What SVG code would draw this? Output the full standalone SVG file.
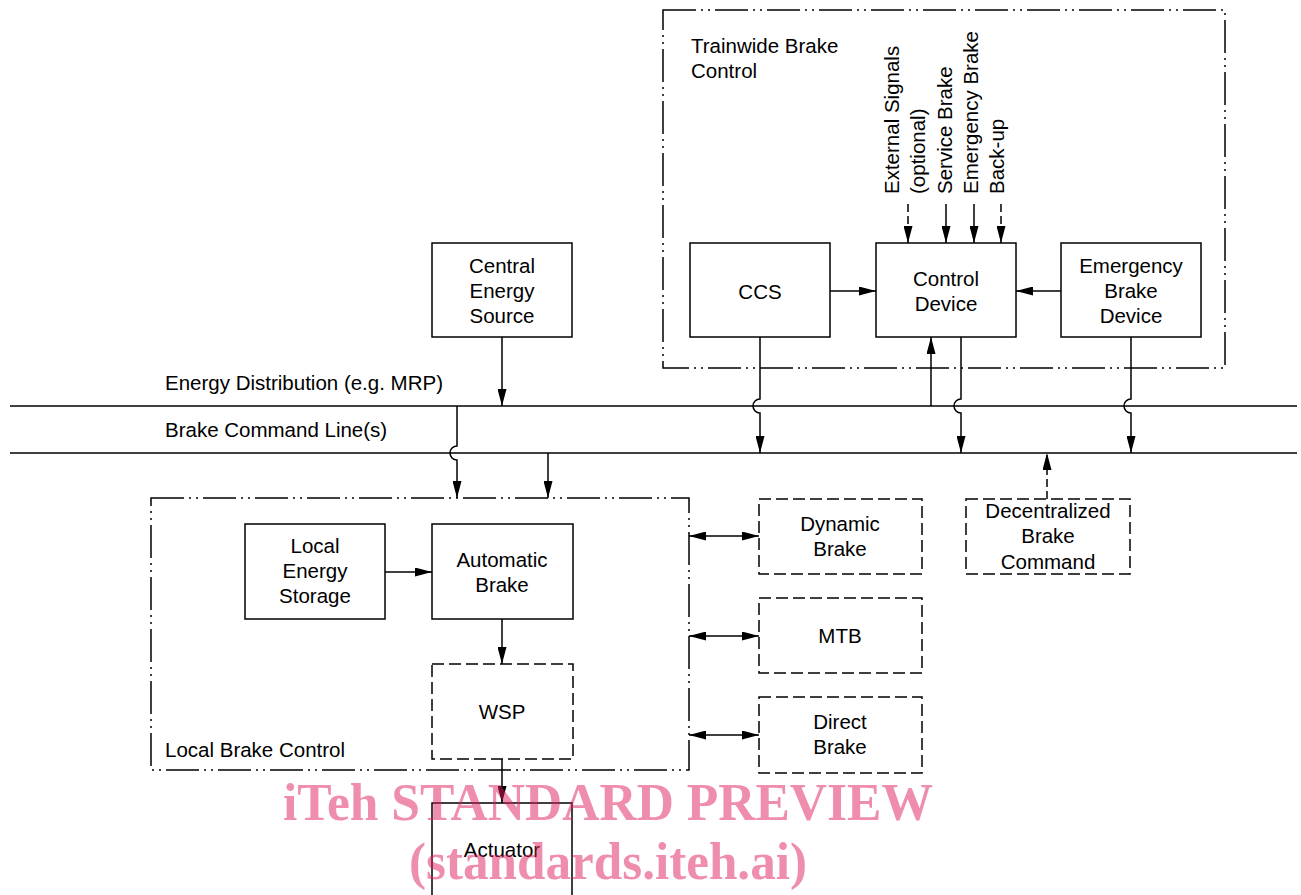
<svg xmlns="http://www.w3.org/2000/svg" width="1301" height="895" viewBox="0 0 1301 895">
<defs>
<marker id="ah" markerWidth="17" markerHeight="9" refX="17" refY="4.5" orient="auto-start-reverse" markerUnits="userSpaceOnUse"><path d="M0,0 L17,4.5 L0,9 z" fill="#000"/></marker>
<style>
.box{fill:#fff;stroke:#000;stroke-width:1.5}
.dbox{fill:#fff;stroke:#000;stroke-width:1.5;stroke-dasharray:12 5}
.grp{fill:none;stroke:#000;stroke-width:1.5;stroke-dasharray:33 5 2 5 2 5}
.t{font-family:"Liberation Sans",Arial,sans-serif;font-size:20.5px;fill:#000}
.c{text-anchor:middle}
.ln{fill:none;stroke:#000;stroke-width:1.5}
.ar{marker-end:url(#ah)}
.da{marker-start:url(#ah);marker-end:url(#ah)}
.dl{stroke-dasharray:8 4}
.wm{font-family:"Liberation Serif","Times New Roman",serif;font-weight:bold;fill:rgb(222,30,90);fill-opacity:0.5}
</style>
</defs>
<rect width="1301" height="895" fill="#fff"/>

<g id="trainwide-brake-control">
<rect class="grp" x="663" y="10" width="562" height="358"/>
<text class="t" x="691" y="53">Trainwide Brake</text>
<text class="t" x="691" y="78">Control</text>
<text class="t" transform="translate(899,194) rotate(-90)">External Signals</text>
<text class="t" transform="translate(925,194) rotate(-90)">(optional)</text>
<text class="t" transform="translate(952,194) rotate(-90)">Service Brake</text>
<text class="t" transform="translate(978,194) rotate(-90)">Emergency Brake</text>
<text class="t" transform="translate(1004,194) rotate(-90)">Back-up</text>
</g>

<g id="local-brake-control">
<rect class="grp" x="151" y="498" width="538" height="272"/>
<text class="t" x="165" y="757">Local Brake Control</text>
</g>

<g id="central-energy-source">
<rect class="box" x="432" y="243" width="140" height="94"/>
<text class="t c" x="502" y="273">Central</text>
<text class="t c" x="502" y="298">Energy</text>
<text class="t c" x="502" y="323">Source</text>
</g>

<g id="ccs">
<rect class="box" x="690" y="243" width="140" height="94"/>
<text class="t c" x="760" y="299">CCS</text>
</g>

<g id="control-device">
<rect class="box" x="876" y="243" width="140" height="94"/>
<text class="t c" x="946" y="286">Control</text>
<text class="t c" x="946" y="311">Device</text>
</g>

<g id="emergency-brake-device">
<rect class="box" x="1061" y="243" width="140" height="94"/>
<text class="t c" x="1131" y="273">Emergency</text>
<text class="t c" x="1131" y="298">Brake</text>
<text class="t c" x="1131" y="323">Device</text>
</g>

<g id="energy-distribution">
<text class="t" x="165" y="390">Energy Distribution (e.g. MRP)</text>
</g>
<g id="brake-command-line">
<text class="t" x="165" y="437">Brake Command Line(s)</text>
</g>

<g id="local-energy-storage">
<rect class="box" x="245" y="524" width="140" height="95"/>
<text class="t c" x="315" y="553">Local</text>
<text class="t c" x="315" y="578">Energy</text>
<text class="t c" x="315" y="603">Storage</text>
</g>

<g id="automatic-brake">
<rect class="box" x="432" y="524" width="141" height="95"/>
<text class="t c" x="502" y="567">Automatic</text>
<text class="t c" x="502" y="592">Brake</text>
</g>

<g id="wsp">
<rect class="dbox" x="432" y="664" width="141" height="95"/>
<text class="t c" x="502" y="719">WSP</text>
</g>

<g id="actuator">
<rect class="box" x="432" y="803" width="140" height="100"/>
<text class="t c" x="502" y="857">Actuator</text>
</g>

<g id="dynamic-brake">
<rect class="dbox" x="759" y="499" width="163" height="75"/>
<text class="t c" x="840" y="531">Dynamic</text>
<text class="t c" x="840" y="556">Brake</text>
</g>

<g id="mtb">
<rect class="dbox" x="759" y="598" width="163" height="75"/>
<text class="t c" x="840" y="643">MTB</text>
</g>

<g id="direct-brake">
<rect class="dbox" x="759" y="697" width="163" height="76"/>
<text class="t c" x="840" y="729">Direct</text>
<text class="t c" x="840" y="754">Brake</text>
</g>

<g id="decentralized-brake-command">
<rect class="dbox" x="966" y="499" width="164" height="75"/>
<text class="t c" x="1048" y="518">Decentralized</text>
<text class="t c" x="1048" y="543">Brake</text>
<text class="t c" x="1048" y="569">Command</text>
</g>

<g id="connectors">
<line class="ln" x1="10" y1="406" x2="1297" y2="406"/>
<line class="ln" x1="10" y1="453" x2="1297" y2="453"/>
<path class="ln ar" d="M502,337 V406"/>
<path class="ln ar" d="M457,406 V446 A7,7 0 0 0 457,460 V498"/>
<path class="ln ar" d="M548,453 V498"/>
<path class="ln ar" d="M760,337 V399 A7,7 0 0 0 760,413 V453"/>
<path class="ln ar" d="M931,406 V337"/>
<path class="ln ar" d="M961,337 V399 A7,7 0 0 0 961,413 V453"/>
<path class="ln ar" d="M1131,337 V399 A7,7 0 0 0 1131,413 V453"/>
<path class="ln ar dl" d="M1047,499 V453"/>
<path class="ln ar" d="M830,291 H876"/>
<path class="ln ar" d="M1061,291 H1016"/>
<path class="ln ar dl" d="M908,204 V243"/>
<path class="ln ar" d="M946,204 V243"/>
<path class="ln ar" d="M974,204 V243"/>
<path class="ln ar dl" d="M1001,204 V243"/>
<path class="ln ar" d="M385,572 H432"/>
<path class="ln ar" d="M502,619 V664"/>
<path class="ln ar" d="M502,759 V803"/>
<path class="ln da" d="M689,536 H759"/>
<path class="ln da" d="M689,636 H759"/>
<path class="ln da" d="M689,735 H759"/>
</g>

<g id="watermark">
<text class="wm" x="283" y="820" font-size="53" textLength="650" lengthAdjust="spacingAndGlyphs">iTeh STANDARD PREVIEW</text>
<text class="wm" x="409" y="879" font-size="53" textLength="398" lengthAdjust="spacingAndGlyphs">(standards.iteh.ai)</text>
</g>
</svg>
